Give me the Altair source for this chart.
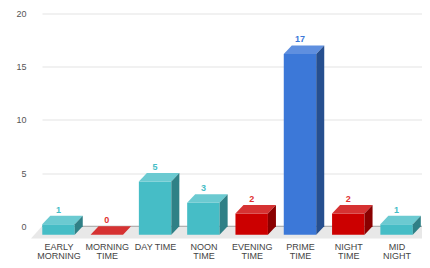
import json
import altair as alt
import pandas as pd

# ---- data ----
categories = ["EARLY MORNING", "MORNING TIME", "DAY TIME", "NOON TIME",
              "EVENING TIME", "PRIME TIME", "NIGHT TIME", "MID NIGHT"]
values = [1, 0, 5, 3, 2, 17, 2, 1]
groups = ["teal", "red", "teal", "teal", "red", "blue", "red", "teal"]
tick_lines = [["EARLY", "MORNING"], ["MORNING", "TIME"], ["DAY TIME"],
              ["NOON", "TIME"], ["EVENING", "TIME"], ["PRIME", "TIME"],
              ["NIGHT", "TIME"], ["MID", "NIGHT"]]
y_ticks = [0, 5, 10, 15, 20]

# ---- styles ----
palette = {
    "teal": {"front": "#46BDC6", "top": "#6BCAD1", "side": "#2F8086", "label": "#46BDC6"},
    "red": {"front": "#CC0000", "top": "#D63232", "side": "#8A0000", "label": "#E03131"},
    "blue": {"front": "#3C78D8", "top": "#5F8FDF", "side": "#264F8F", "label": "#3C78D8"},
}
HW = 0.336   # half width of the front face (x units)
DX = 0.166   # depth offset along x
DY = 0.80    # depth offset along y
X0, X1 = -0.3416, 7.526
Y0, Y1 = -1.15, 20
FLOOR_LEFT = X0 - 0.228

xs = alt.Scale(domain=[X0, X1], nice=False, zero=False)
ys = alt.Scale(domain=[Y0, Y1], nice=False, zero=False)

X_AXIS = alt.Axis(values=list(range(len(categories))),
                  labelExpr=json.dumps(tick_lines) + "[round(datum.value)]",
                  grid=False, domain=False, ticks=False, labelFontSize=9,
                  labelColor="#444444", labelFont="Liberation Sans",
                  labelBaseline="top", labelPadding=4, labelLineHeight=9,
                  labelAlign="center", labelOverlap=False, title=None)
Y_AXIS = alt.Axis(values=y_ticks, grid=True, gridColor="#E3E3E3", domain=False,
                  ticks=False, labelFontSize=9, labelColor="#555555",
                  labelFont="Liberation Sans", labelPadding=16, title=None)

front_rows, top_rows, side_rows, label_rows = [], [], [], []
for i, (c, v, g) in enumerate(zip(categories, values, groups)):
    p = palette[g]
    front_rows.append({"cat": c, "x": i - HW, "x2": i + HW, "y": v - DY, "y2": -DY, "col": p["front"]})
    top_rows.append({"cat": c, "y": v - DY, "x": i - HW, "x2": i + HW, "col": p["top"]})
    top_rows.append({"cat": c, "y": v, "x": i - HW + DX, "x2": i + HW + DX, "col": p["top"]})
    side_rows.append({"cat": c, "x": i + HW, "y": v - DY, "y2": -DY, "col": p["side"]})
    side_rows.append({"cat": c, "x": i + HW + DX, "y": v, "y2": 0, "col": p["side"]})
    label_rows.append({"cat": c, "x": i, "y": v, "txt": str(v), "col": p["label"]})

front_df = pd.DataFrame(front_rows)
top_df = pd.DataFrame(top_rows)
side_df = pd.DataFrame(side_rows)
label_df = pd.DataFrame(label_rows)
floor_df = pd.DataFrame([
    {"y": Y0, "x": FLOOR_LEFT, "x2": X1},
    {"y": 0, "x": X0, "x2": X1},
])
zero_df = pd.DataFrame([{"x": X0, "x2": X1, "y": 0}])


def X(field):
    return alt.X(field, scale=xs, axis=X_AXIS, title=None)


def Y(field):
    return alt.Y(field, scale=ys, axis=Y_AXIS, title=None)


floor = alt.Chart(floor_df).mark_area(orient="horizontal", color="#E8E8E8").encode(
    y=Y("y:Q"), x=X("x:Q"), x2="x2:Q",
)

zero_rule = alt.Chart(zero_df).mark_rule(color="#A0A0A0", strokeWidth=1).encode(
    x=X("x:Q"), x2="x2:Q", y=Y("y:Q"),
)

front = alt.Chart(front_df).mark_rect().encode(
    x=X("x:Q"), x2="x2:Q", y=Y("y:Q"), y2="y2:Q",
    color=alt.Color("col:N", scale=None),
)

top = alt.Chart(top_df).mark_area(orient="horizontal").encode(
    y=Y("y:Q"), x=X("x:Q"), x2="x2:Q",
    color=alt.Color("col:N", scale=None),
    detail="cat:N",
)

side = alt.Chart(side_df).mark_area(orient="vertical").encode(
    x=X("x:Q"), y=Y("y:Q"), y2="y2:Q",
    color=alt.Color("col:N", scale=None),
    detail="cat:N",
)

labels = alt.Chart(label_df).mark_text(
    baseline="alphabetic", dy=-3, fontWeight="bold", fontSize=9, font="Liberation Sans"
).encode(
    x=X("x:Q"), y=Y("y:Q"),
    text="txt:N",
    color=alt.Color("col:N", scale=None),
)

chart = alt.layer(floor, zero_rule, front, top, side, labels).properties(
    width=380, height=225,
    autosize=alt.AutoSizeParams(type="none"),
    padding={"left": 34, "top": 5.5, "right": 0, "bottom": 21.5},
    background="white",
).configure_view(stroke=None)

chart.save("out.html", embed_options={"renderer": "svg", "actions": False})
